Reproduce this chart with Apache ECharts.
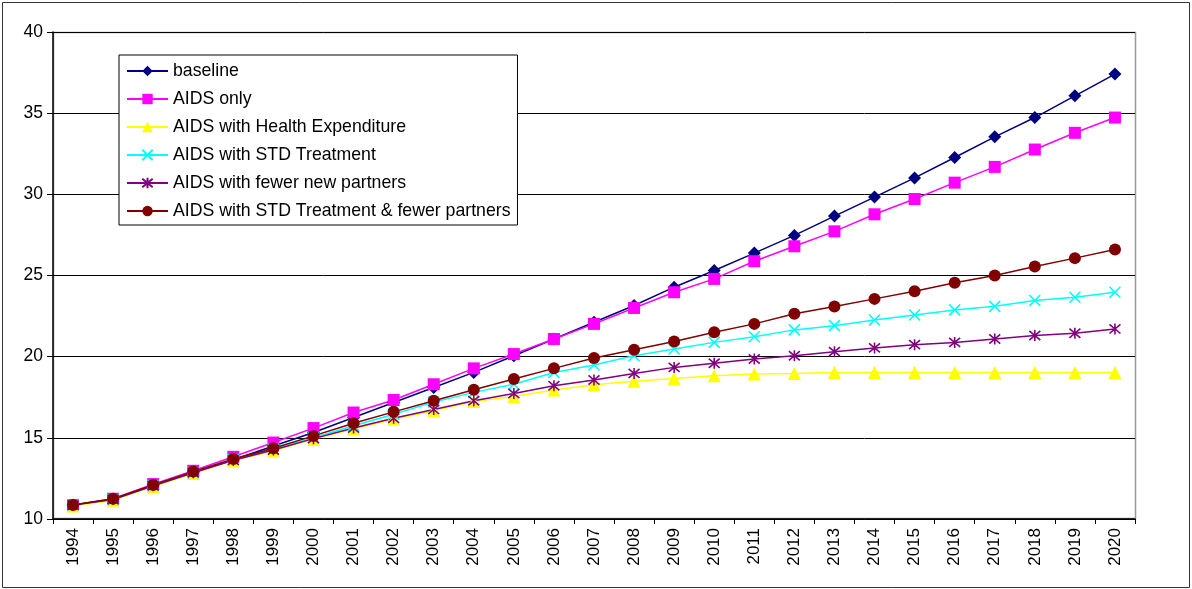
<!DOCTYPE html>
<html>
<head>
<meta charset="utf-8">
<script src="https://cdn.jsdelivr.net/npm/echarts@6/dist/echarts.min.js"></script>
<style>
  html, body { margin: 0; padding: 0; background: #fff; }
  #chart { width: 1192px; height: 589px; }
</style>
</head>
<body>
<div id="chart"></div>
<script>
const years = ['1994','1995','1996','1997','1998','1999','2000','2001','2002','2003','2004','2005','2006',
  '2007','2008','2009','2010','2011','2012','2013','2014','2015','2016','2017','2018','2019','2020']

const baseline = [10.86, 11.21, 12.1, 12.9, 13.65, 14.5, 15.33, 16.25, 17.18, 18.1, 19.03, 20.06, 21.09,
  22.12, 23.15, 24.28, 25.31, 26.38, 27.47, 28.66, 29.83, 31.01, 32.27, 33.54, 34.73, 36.07, 37.41]
const aidsOnly = [10.86, 11.25, 12.15, 12.97, 13.83, 14.71, 15.6, 16.56, 17.33, 18.3, 19.28, 20.16, 21.09,
  22.02, 23.0, 23.97, 24.79, 25.88, 26.8, 27.72, 28.77, 29.71, 30.72, 31.69, 32.76, 33.79, 34.73]
const healthExp = [10.8, 11.15, 12.0, 12.8, 13.6, 14.2, 14.92, 15.55, 16.15, 16.67, 17.24, 17.55, 17.95,
  18.27, 18.48, 18.66, 18.83, 18.93, 18.97, 19.03, 19.03, 19.03, 19.03, 19.03, 19.03, 19.03, 19.03]
const stdTreatment = [10.86, 11.2, 12.05, 12.85, 13.65, 14.3, 15.0, 15.75, 16.45, 17.2, 17.8, 18.3, 19.03,
  19.49, 20.06, 20.47, 20.88, 21.23, 21.65, 21.91, 22.26, 22.57, 22.88, 23.1, 23.46, 23.66, 23.97]
const fewerPartners = [10.86, 11.2, 12.05, 12.85, 13.62, 14.25, 14.95, 15.6, 16.21, 16.75, 17.28, 17.73, 18.21,
  18.56, 18.97, 19.34, 19.59, 19.86, 20.06, 20.31, 20.54, 20.74, 20.88, 21.09, 21.3, 21.44, 21.71]
const stdAndFewer = [10.86, 11.25, 12.1, 12.92, 13.7, 14.36, 15.12, 15.9, 16.6, 17.28, 17.96, 18.62, 19.28,
  19.92, 20.43, 20.94, 21.5, 22.02, 22.64, 23.09, 23.56, 24.03, 24.55, 25.0, 25.56, 26.07, 26.6]

const font = 'Liberation Sans, Arial, sans-serif'
const crossPath = 'path://M0,0L10,10M10,0L0,10'
const starPath = 'path://M0,0L10,10M10,0L0,10M5,-1L5,11'

const makeSeries = (name, data, color, symbol, size, stroked) => ({
  name,
  type: 'line',
  data,
  symbol,
  symbolSize: size,
  lineStyle: { color, width: 1.5 },
  itemStyle: stroked
    ? { color: 'rgba(0,0,0,0)', borderColor: color, borderWidth: 1.6 }
    : { color },
  emphasis: { disabled: true },
  z: 2
})

const chart = echarts.init(document.getElementById('chart'))

chart.setOption({
  animation: false,
  backgroundColor: '#fff',
  textStyle: { fontFamily: font },
  graphic: [{
    type: 'rect',
    shape: { x: 2.5, y: 2.5, width: 1187, height: 585 },
    style: { fill: 'none', stroke: '#333', lineWidth: 1 },
    silent: true
  }, {
    type: 'rect',
    shape: { x: 53.5, y: 32.5, width: 1082, height: 486 },
    style: { fill: 'none', stroke: '#999', lineWidth: 1.5 },
    silent: true,
    z: -1
  }],
  legend: {
    orient: 'vertical',
    left: 119,
    top: 55,
    padding: [7, 7, 5, 7],
    itemGap: 10,
    itemWidth: 41,
    itemHeight: 13,
    backgroundColor: '#fff',
    borderColor: '#000',
    borderWidth: 1,
    textStyle: { fontFamily: font, fontSize: 17.7, color: '#000', lineHeight: 18 },
    data: ['baseline', 'AIDS only', 'AIDS with Health Expenditure', 'AIDS with STD Treatment',
      'AIDS with fewer new partners', 'AIDS with STD Treatment & fewer partners']
  },
  grid: { left: 53, right: 57, top: 32, bottom: 70 },
  xAxis: {
    type: 'category',
    data: years,
    boundaryGap: true,
    axisLine: { lineStyle: { color: '#000', width: 1.5 } },
    axisTick: { show: true, length: 5, lineStyle: { color: '#000' } },
    axisLabel: { rotate: 90, color: '#000', fontSize: 17, fontFamily: font, margin: 9, interval: 0 }
  },
  yAxis: {
    type: 'value',
    min: 10,
    max: 40,
    interval: 5,
    axisLine: { show: true, lineStyle: { color: '#000', width: 1.5 } },
    axisTick: { show: true, length: 6, inside: false, lineStyle: { color: '#000' } },
    axisLabel: { color: '#000', fontSize: 17.5, fontFamily: font, margin: 10 },
    splitLine: { show: true, lineStyle: { color: '#000', width: 1 } }
  },
  series: [
    makeSeries('baseline', baseline, '#000080', 'diamond', 13, false),
    makeSeries('AIDS only', aidsOnly, '#FF00FF', 'rect', 12, false),
    makeSeries('AIDS with Health Expenditure', healthExp, '#FFFF00', 'triangle', 13, false),
    makeSeries('AIDS with STD Treatment', stdTreatment, '#00FFFF', crossPath, 11, true),
    makeSeries('AIDS with fewer new partners', fewerPartners, '#800080', starPath, 11, true),
    makeSeries('AIDS with STD Treatment & fewer partners', stdAndFewer, '#800000', 'circle', 12, false)
  ]
})
</script>
</body>
</html>
